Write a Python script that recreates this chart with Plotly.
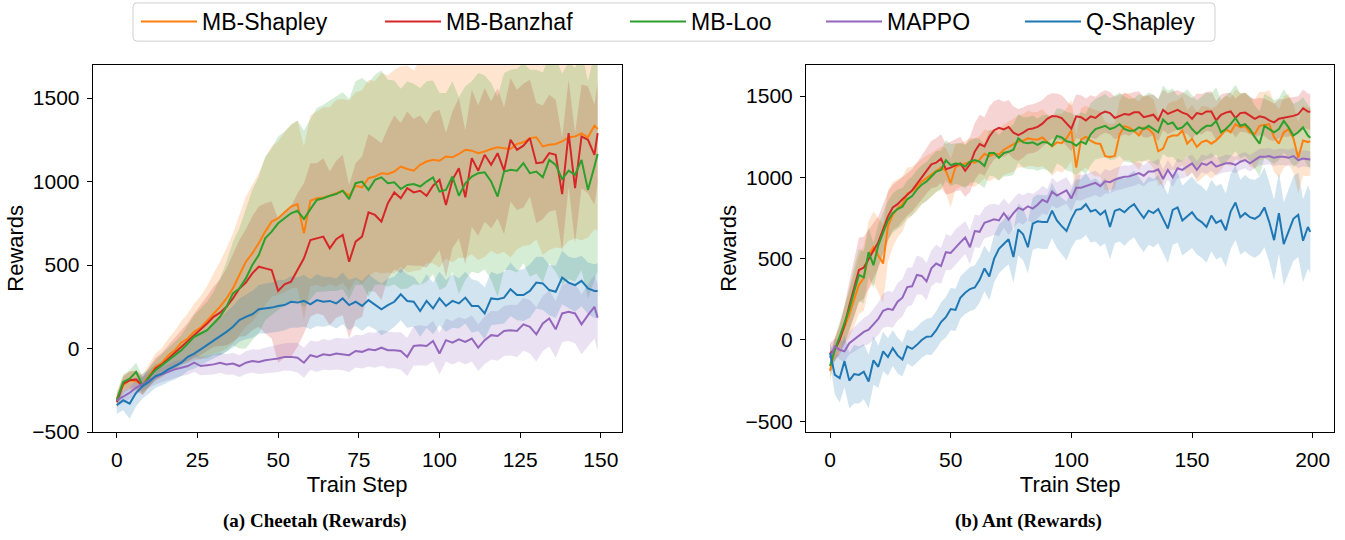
import plotly.graph_objects as go

W, H = 1345, 540

series_names = ["MB-Shapley", "MB-Banzhaf", "MB-Loo", "MAPPO", "Q-Shapley"]
series_colors = ["#ff7f0e", "#d62728", "#2ca02c", "#9467bd", "#1f77b4"]
band_colors = ["rgba(255,127,14,0.2)", "rgba(214,39,40,0.2)", "rgba(44,160,44,0.2)",
               "rgba(148,103,189,0.2)", "rgba(31,119,180,0.2)"]

# ---------------- Cheetah (train steps 0..149, read every 2 steps) ----------------
cheetah_steps = list(range(0, 150, 2)) + [149]

cheetah_mb_shapley = [
    -300, -220, -190, -195, -215, -160, -110, -85, -40, -10,
    35, 60, 100, 125, 165, 210, 250, 300, 360, 440,
    520, 570, 630, 700, 760, 780, 815, 850, 865, 690,
    885, 900, 905, 915, 930, 945, 915, 975, 965, 1020,
    1030, 1050, 1045, 1060, 1090, 1075, 1065, 1100, 1120, 1130,
    1125, 1150, 1145, 1165, 1190, 1185, 1170, 1180, 1195, 1205,
    1200, 1195, 1225, 1235, 1260, 1265, 1210, 1220, 1225, 1240,
    1265, 1270, 1288, 1265, 1335, 1315]
cheetah_mb_banzhaf = [
    -320, -210, -190, -185, -225, -170, -120, -95, -60, -30,
    10, 40, 80, 110, 150, 190, 215, 250, 300, 360,
    395, 450, 490, 480, 470, 345, 385, 400, 470, 540,
    650, 660, 670, 600, 655, 680, 520, 640, 670, 815,
    800, 760, 870, 935, 900, 960, 935, 945, 915, 975,
    1010, 860, 1010, 1080, 905, 1140, 1065, 1160, 1100, 1170,
    1065, 1250, 1190, 1215, 1260, 1110, 1115, 1170, 1160, 925,
    1290, 960, 1270, 1250, 1160, 1290]
cheetah_mb_loo = [
    -310, -200, -180, -140, -220, -170, -130, -100, -70, -40,
    -10, 30, 70, 90, 110, 150, 190, 250, 330, 360,
    420, 500, 560, 660, 700, 750, 780, 810, 825, 775,
    835, 890, 900, 915, 925, 945, 895, 990, 1000, 950,
    1010, 1025, 990, 995, 955, 980, 985, 970, 1000, 1025,
    940, 950, 1030, 915, 990, 1030, 1050, 1055, 1000, 910,
    1060, 1070, 1065, 1110, 1050, 1060, 1025, 1130, 1100, 1015,
    1065, 1040, 1130, 950, 1090, 1165]
cheetah_mappo = [
    -310, -290, -265, -235, -210, -190, -170, -155, -140, -125,
    -115, -105, -85, -105, -100, -95, -85, -95, -90, -105,
    -85, -75, -80, -70, -65, -60, -50, -50, -55, -85,
    -40, -50, -35, -40, -30, -35, -40, -15, -20, -5,
    -10, 5, -10, -10, -15, -50, 15, 20, 15, 45,
    -30, 50, 35, 55, 40, 60, 5, 50, 80, 75,
    105, 110, 105, 145, 130, 85, 150, 180, 115, 210,
    220, 210, 145, 200, 250, 185]
cheetah_q_shapley = [
    -340, -310, -330, -265, -225, -200, -165, -150, -125, -105,
    -85, -50, -30, -5, 20, 45, 70, 100, 130, 170,
    190, 205, 235, 240, 245, 255, 260, 280, 275, 285,
    265, 290, 280, 285, 270, 300, 260, 280, 255, 290,
    265, 235, 260, 280, 325, 285, 280, 225, 285, 240,
    300, 255, 285, 270, 305, 255, 255, 210, 300, 295,
    305, 355, 320, 320, 345, 395, 390, 350, 340, 425,
    395, 380, 405, 360, 345, 345]

cheetah_mb_shapley_std = [
    40, 50, 55, 60, 60, 70, 80, 90, 100, 115,
    130, 150, 170, 190, 210, 240, 270, 300, 330, 360,
    390, 410, 420, 440, 450, 460, 480, 490, 500, 520,
    510, 520, 540, 530, 560, 550, 570, 560, 580, 590,
    570, 600, 590, 610, 600, 620, 600, 630, 610, 620,
    640, 610, 630, 620, 650, 620, 640, 630, 610, 640,
    620, 650, 630, 620, 640, 610, 650, 630, 620, 640,
    620, 610, 640, 600, 620, 610]
cheetah_mb_banzhaf_std = [
    40, 45, 50, 55, 55, 60, 65, 70, 80, 90,
    100, 115, 130, 150, 165, 180, 200, 230, 260, 290,
    320, 340, 360, 390, 410, 430, 440, 450, 460, 450,
    460, 450, 470, 460, 470, 480, 460, 470, 480, 470,
    460, 470, 450, 460, 450, 460, 440, 450, 430, 440,
    420, 430, 410, 420, 400, 410, 390, 400, 380, 390,
    380, 370, 360, 370, 350, 360, 340, 350, 330, 340,
    320, 330, 310, 320, 300, 300]
cheetah_mb_loo_std = [
    40, 45, 50, 55, 50, 55, 60, 65, 70, 80,
    90, 110, 130, 150, 170, 190, 230, 270, 310, 360,
    420, 450, 470, 490, 500, 520, 520, 530, 540, 530,
    540, 550, 560, 570, 580, 590, 600, 610, 620, 640,
    630, 640, 620, 610, 600, 620, 600, 590, 600, 580,
    590, 580, 570, 590, 580, 570, 600, 580, 590, 600,
    590, 600, 610, 600, 620, 610, 630, 620, 640, 630,
    650, 640, 660, 650, 680, 700]
cheetah_mappo_std = [
    35, 38, 40, 42, 40, 45, 45, 45, 48, 50,
    50, 52, 55, 55, 58, 60, 60, 62, 65, 65,
    68, 70, 72, 75, 78, 80, 82, 85, 88, 90,
    88, 90, 92, 90, 95, 95, 100, 98, 100, 102,
    105, 108, 110, 108, 112, 115, 118, 120, 118, 122,
    125, 128, 130, 132, 135, 138, 140, 142, 145, 148,
    150, 152, 155, 158, 160, 162, 165, 168, 170, 172,
    175, 178, 180, 185, 190, 200]
cheetah_q_shapley_std = [
    50, 60, 90, 80, 75, 70, 70, 70, 75, 80,
    80, 85, 90, 95, 100, 105, 110, 120, 125, 130,
    135, 140, 145, 150, 150, 155, 150, 155, 150, 155,
    150, 155, 150, 145, 150, 155, 150, 145, 150, 155,
    150, 155, 160, 150, 155, 160, 150, 155, 160, 155,
    160, 155, 160, 150, 155, 160, 150, 155, 160, 150,
    155, 160, 150, 155, 160, 155, 160, 150, 155, 160,
    155, 160, 150, 155, 160, 165]

# ---------------- Ant (train steps 0..199, read every 2 steps) ----------------
ant_steps = list(range(0, 200, 2)) + [199]

ant_mb_shapley = [
    -190, -55, 5, 85, 155, 250, 340, 380, 520, 570,
    520, 470, 700, 770, 810, 835, 900, 915, 940, 975,
    995, 1015, 1040, 1060, 1040, 965, 1065, 1075, 1085, 1095,
    1090, 1110, 1145, 1130, 1145, 1140, 1170, 1185, 1200, 1220,
    1225, 1240, 1235, 1232, 1245, 1215, 1190, 1215, 1210, 1240,
    1290, 1060, 1230, 1250, 1225, 1210, 1205, 1130, 1125, 1132,
    1265, 1315, 1305, 1285, 1257, 1305, 1297, 1267, 1160, 1177,
    1247, 1257, 1257, 1287, 1207, 1237, 1187, 1217, 1227, 1207,
    1227, 1257, 1297, 1277, 1327, 1307, 1317, 1277, 1267, 1317,
    1320, 1327, 1247, 1207, 1277, 1297, 1240, 1120, 1227, 1217,
    1223]
ant_mb_banzhaf = [
    -80, -60, 0, 90, 210, 320, 430, 445, 500, 550,
    600, 680, 760, 815, 835, 865, 895, 920, 960, 1000,
    1040, 1080, 1090, 1115, 1050, 1060, 1075, 1085, 1040, 1080,
    1160, 1205, 1190, 1250, 1290, 1305, 1295, 1310, 1275, 1260,
    1275, 1295, 1300, 1310, 1330, 1360, 1377, 1375, 1365, 1330,
    1300, 1375, 1370, 1350, 1375, 1365, 1390, 1405, 1395, 1365,
    1380, 1390, 1385, 1400, 1400, 1370, 1377, 1385, 1350, 1415,
    1390, 1405, 1415, 1398, 1388, 1360, 1395, 1388, 1405, 1405,
    1350, 1385, 1398, 1405, 1365, 1395, 1398, 1380, 1360, 1375,
    1368, 1350, 1338, 1360, 1365, 1370, 1378, 1388, 1425, 1405,
    1403]
ant_mb_loo = [
    -160, -60, 20, 100, 190, 300, 400, 385, 540, 460,
    580, 660, 735, 780, 805, 820, 865, 885, 925, 955,
    975, 1005, 1035, 1045, 1105, 1075, 1085, 1082, 1066, 1096,
    1106, 1096, 1070, 1150, 1150, 1120, 1150, 1157, 1170, 1240,
    1215, 1210, 1215, 1200, 1217, 1215, 1195, 1255, 1245, 1222,
    1215, 1195, 1220, 1205, 1265, 1297, 1307, 1317, 1297, 1307,
    1327, 1297, 1287, 1287, 1307, 1297, 1317, 1297, 1277, 1355,
    1327, 1337, 1297, 1307, 1337, 1297, 1267, 1297, 1317, 1317,
    1347, 1277, 1297, 1327, 1365, 1317, 1327, 1297, 1247, 1207,
    1317, 1297, 1277, 1297, 1347, 1307, 1257, 1277, 1307, 1257,
    1243]
ant_mappo = [
    -110, -40, -60, -70, -20, 5, 25, 50, 64, 95,
    130, 180, 192, 185, 235, 260, 325, 330, 400, 394,
    360, 440, 470, 455, 540, 535, 570, 600, 630, 570,
    670, 665, 720, 733, 742, 735, 780, 740, 780, 812,
    800, 822, 808, 832, 862, 848, 912, 888, 905, 920,
    870, 936, 936, 946, 956, 966, 946, 976, 970, 986,
    996, 1004, 1006, 1018, 1026, 1010, 1036, 1036, 1050, 990,
    1046, 1000, 1056, 1046, 1066, 1086, 1046, 1086, 1076, 1096,
    1066, 1076, 1086, 1086, 1076, 1096, 1106, 1086, 1106, 1126,
    1126, 1131, 1120, 1126, 1126, 1120, 1131, 1106, 1116, 1112,
    1110]
ant_q_shapley = [
    -80, -215, -235, -130, -250, -210, -215, -195, -255, -125,
    -165, -70, -105, -50, -95, -120, -40, -55, -30, 0,
    20, 22, 60, 110, 140, 190, 185, 260, 290, 313,
    323, 370, 440, 390, 500, 560, 590, 620, 510, 680,
    650, 570, 715, 730, 725, 725, 795, 735, 700, 670,
    745, 800, 805, 835, 790, 800, 770, 795, 695, 795,
    805, 785, 815, 835, 790, 750, 795, 780, 805, 745,
    685, 800, 815, 735, 760, 785, 745, 725, 695, 765,
    720, 735, 675, 790, 845, 755, 780, 755, 745, 765,
    815, 725, 614, 780, 590, 665, 745, 770, 610, 695,
    665]

ant_mb_shapley_std = [
    60, 70, 90, 110, 140, 160, 180, 200, 210, 220,
    230, 240, 220, 200, 180, 170, 160, 150, 150, 140,
    140, 135, 130, 130, 140, 150, 140, 135, 140, 145,
    150, 145, 150, 155, 150, 160, 155, 160, 165, 160,
    165, 170, 165, 170, 175, 170, 180, 175, 180, 185,
    190, 200, 195, 190, 200, 205, 200, 210, 205, 200,
    205, 210, 200, 205, 210, 200, 205, 210, 215, 210,
    205, 210, 215, 210, 205, 210, 215, 220, 210, 215,
    210, 215, 205, 210, 215, 210, 205, 210, 215, 210,
    205, 210, 215, 210, 220, 215, 210, 220, 215, 210,
    210]
ant_mb_banzhaf_std = [
    60, 70, 90, 120, 150, 180, 200, 190, 180, 170,
    160, 150, 150, 140, 140, 135, 130, 130, 130, 135,
    140, 145, 150, 150, 155, 160, 160, 165, 160, 170,
    175, 180, 180, 185, 180, 175, 170, 165, 160, 160,
    155, 150, 150, 150, 145, 145, 140, 140, 140, 140,
    140, 135, 135, 135, 130, 130, 130, 130, 130, 130,
    130, 125, 130, 125, 130, 125, 130, 125, 130, 125,
    125, 125, 120, 125, 120, 125, 120, 125, 120, 125,
    120, 125, 120, 115, 120, 115, 120, 115, 120, 115,
    115, 120, 115, 120, 115, 120, 115, 110, 115, 110,
    110]
ant_mb_loo_std = [
    60, 70, 90, 110, 130, 150, 160, 160, 150, 140,
    130, 125, 120, 120, 120, 115, 115, 120, 120, 120,
    120, 125, 125, 120, 125, 130, 125, 130, 135, 130,
    135, 140, 135, 140, 145, 140, 145, 150, 155, 150,
    155, 160, 165, 160, 165, 170, 175, 170, 175, 180,
    180, 185, 180, 185, 190, 185, 190, 195, 190, 195,
    195, 200, 195, 200, 205, 200, 205, 210, 205, 210,
    205, 210, 205, 210, 205, 210, 205, 200, 205, 200,
    205, 200, 205, 200, 205, 200, 195, 200, 195, 200,
    195, 200, 195, 190, 195, 190, 195, 190, 185, 190,
    185]
ant_mappo_std = [
    40, 50, 60, 65, 70, 75, 80, 85, 90, 95,
    100, 105, 110, 110, 115, 115, 120, 115, 120, 115,
    115, 110, 115, 110, 110, 105, 110, 105, 100, 105,
    100, 100, 95, 100, 95, 95, 90, 95, 90, 90,
    90, 85, 90, 85, 85, 80, 85, 80, 80, 80,
    80, 75, 80, 75, 75, 75, 70, 75, 70, 70,
    70, 70, 65, 70, 65, 65, 65, 60, 65, 60,
    60, 60, 60, 55, 60, 55, 55, 55, 55, 55,
    55, 50, 55, 50, 50, 50, 50, 50, 50, 50,
    50, 50, 50, 50, 50, 50, 50, 50, 50, 50,
    50]
ant_q_shapley_std = [
    60, 120, 150, 160, 170, 180, 175, 170, 165, 150,
    130, 120, 115, 110, 110, 105, 105, 110, 110, 110,
    110, 115, 115, 120, 125, 130, 130, 130, 130, 135,
    135, 140, 140, 145, 145, 150, 150, 155, 160, 160,
    160, 160, 160, 165, 165, 165, 170, 170, 175, 180,
    180, 185, 185, 190, 190, 195, 195, 200, 200, 200,
    200, 205, 205, 205, 210, 210, 210, 210, 210, 210,
    210, 215, 215, 215, 220, 220, 220, 220, 220, 220,
    225, 225, 225, 230, 230, 230, 235, 235, 240, 240,
    245, 245, 250, 250, 255, 255, 260, 260, 255, 255,
    250]

cheetah_means = [cheetah_mb_shapley, cheetah_mb_banzhaf, cheetah_mb_loo, cheetah_mappo, cheetah_q_shapley]
cheetah_stds = [cheetah_mb_shapley_std, cheetah_mb_banzhaf_std, cheetah_mb_loo_std, cheetah_mappo_std, cheetah_q_shapley_std]
ant_means = [ant_mb_shapley, ant_mb_banzhaf, ant_mb_loo, ant_mappo, ant_q_shapley]
ant_stds = [ant_mb_shapley_std, ant_mb_banzhaf_std, ant_mb_loo_std, ant_mappo_std, ant_q_shapley_std]

cheetah_xticks = [0, 25, 50, 75, 100, 125, 150]
ant_xticks = [0, 50, 100, 150, 200]
y_ticks = [-500, 0, 500, 1000, 1500]
y_tick_labels = ["\u2212500", "0", "500", "1000", "1500"]
captions = ["(a) Cheetah (Rewards)", "(b) Ant (Rewards)"]

legend_widths = [173, 174, 125, 128, 110]

fig = go.Figure()


def add_panel(steps, means, stds, xa, ya, show_legend):
    for i in range(len(series_names)):
        upper = [m + s for m, s in zip(means[i], stds[i])]
        lower = [m - s for m, s in zip(means[i], stds[i])]
        fig.add_trace(go.Scatter(
            x=steps + steps[::-1], y=upper + lower[::-1],
            fill="toself", fillcolor=band_colors[i], mode="lines",
            line=dict(width=0, color=band_colors[i]), hoverinfo="skip",
            showlegend=False, xaxis=xa, yaxis=ya))
    for i in range(len(series_names)):
        fig.add_trace(go.Scatter(
            x=steps, y=means[i], mode="lines", name=series_names[i],
            line=dict(color=series_colors[i], width=2),
            showlegend=show_legend, legendwidth=legend_widths[i],
            xaxis=xa, yaxis=ya))


add_panel(cheetah_steps, cheetah_means, cheetah_stds, "x", "y", True)
add_panel(ant_steps, ant_means, ant_stds, "x2", "y2", False)

axis_common = dict(
    ticks="outside", ticklen=5, tickwidth=1, tickcolor="black",
    showline=True, linecolor="black", linewidth=1, mirror=True,
    showgrid=False, zeroline=False,
    tickfont=dict(size=21, color="black"),
)

y_dom = [(H - 441) / H, (H - 66) / H]
x_title = dict(text="Train Step", font=dict(size=22), standoff=6)
y_title = dict(text="Rewards", font=dict(size=22), standoff=2)

fig.update_layout(
    width=W, height=H,
    margin=dict(l=0, r=0, t=0, b=0),
    plot_bgcolor="white", paper_bgcolor="white",
    font=dict(family="Liberation Sans, Arial, sans-serif", color="black", size=21),
    showlegend=True,
    legend=dict(orientation="h", x=136 / W, xanchor="left", y=1.0, yanchor="top",
                itemwidth=56, font=dict(size=23, color="black"),
                bgcolor="rgba(0,0,0,0)", borderwidth=0),
    xaxis=dict(domain=[92.7 / W, 621.7 / W], range=[-7.45, 156.45], tickvals=cheetah_xticks,
               anchor="y", title=x_title, ticklabelstandoff=4, **axis_common),
    yaxis=dict(domain=y_dom, range=[-500, 1700], tickvals=y_ticks, ticktext=y_tick_labels,
               anchor="x", title=y_title, ticklabelstandoff=3, **axis_common),
    xaxis2=dict(domain=[806 / W, 1334.3 / W], range=[-9.95, 208.95], tickvals=ant_xticks,
                anchor="y2", title=x_title, ticklabelstandoff=4, **axis_common),
    yaxis2=dict(domain=y_dom, range=[-566, 1693], tickvals=y_ticks, ticktext=y_tick_labels,
                anchor="x2", title=y_title, ticklabelstandoff=3, **axis_common),
)

# rounded legend frame (paper coordinates)
x0, x1 = 133 / W, 1215 / W
y0, y1 = 1 - 42 / H, 1 - 3 / H
rx, ry = 4 / W, 4 / H
frame = (f"M {x0 + rx},{y1} L {x1 - rx},{y1} Q {x1},{y1} {x1},{y1 - ry} "
         f"L {x1},{y0 + ry} Q {x1},{y0} {x1 - rx},{y0} L {x0 + rx},{y0} "
         f"Q {x0},{y0} {x0},{y0 + ry} L {x0},{y1 - ry} Q {x0},{y1} {x0 + rx},{y1} Z")
fig.add_shape(type="path", path=frame, xref="paper", yref="paper",
              line=dict(color="#d0d0d0", width=1), fillcolor="white", layer="below")

for text, cx in zip(captions, [315, 1028]):
    fig.add_annotation(text=f"<b>{text}</b>", xref="paper", yref="paper",
                       x=cx / W, y=(H - 532) / H, xanchor="center", yanchor="middle",
                       showarrow=False,
                       font=dict(family="Liberation Serif, Times New Roman, serif", size=19, color="black"))

fig.write_html("out.html", config={"displayModeBar": False},
               post_script="document.body.style.margin='0';document.body.style.overflow='hidden';")
